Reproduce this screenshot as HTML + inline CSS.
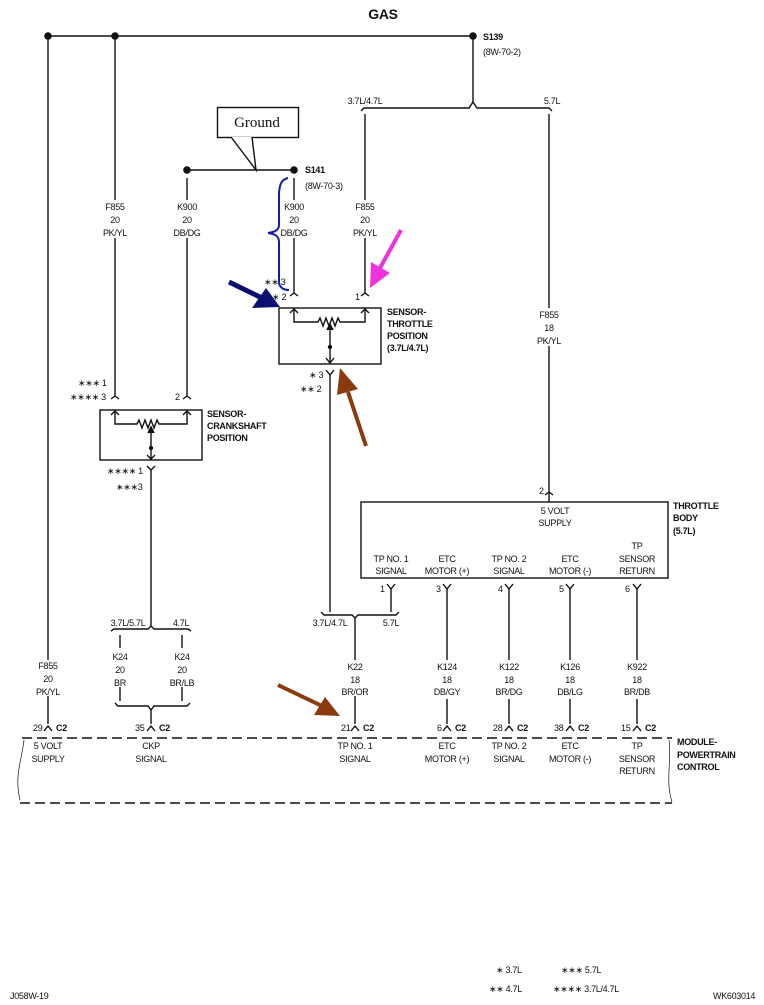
<!DOCTYPE html>
<html><head><meta charset="utf-8"><style>
html,body{margin:0;padding:0;background:#fff;}
svg{display:block;}
text{font-family:"Liberation Sans",sans-serif;font-size:9px;fill:#111;letter-spacing:-0.3px;}
.m{text-anchor:middle;}
.b{font-weight:bold;}
</style></head><body>
<svg width="764" height="1005" viewBox="0 0 764 1005" xmlns="http://www.w3.org/2000/svg">
<g stroke="#111" stroke-width="1.4" fill="none">
<line x1="48" y1="36" x2="473" y2="36"/>
<line x1="48" y1="36" x2="48" y2="660"/><line x1="48" y1="696" x2="48" y2="724"/>
<line x1="115" y1="36" x2="115" y2="200"/><line x1="115" y1="238" x2="115" y2="396"/>
<line x1="473" y1="36" x2="473" y2="102"/>
<path d="M361,111 L364,108 L469,108 L473,102 L477,108 L549,108 L552,111"/>
<line x1="365" y1="114" x2="365" y2="200"/><line x1="365" y1="238" x2="365" y2="293"/>
<line x1="549" y1="114" x2="549" y2="308"/><line x1="549" y1="346" x2="549" y2="492"/>
<line x1="187" y1="170" x2="294" y2="170"/>
<line x1="187" y1="178" x2="187" y2="200"/><line x1="187" y1="238" x2="187" y2="396"/>
<line x1="294" y1="178" x2="294" y2="200"/><line x1="294" y1="238" x2="294" y2="293"/>
<rect x="217.5" y="107.5" width="81" height="30" fill="#fff"/>
<path d="M231,137 L256,170 L252,137" fill="#fff"/>
<rect x="279" y="308" width="102" height="56"/>
<path d="M290,296 L294,293 L298,296 M361,296 L365,293 L369,296"/>
<path d="M294,308 L294,322 L318,322 L320,318 L323,326 L326,318 L329,326 L332,318 L335,326 L338,318 L340,322 L365,322 L365,308"/>
<path d="M290,313 L294,309 L298,313 M361,313 L365,309 L369,313"/>
<line x1="330" y1="324" x2="330" y2="363"/><path d="M327,330 L330,324 L333,330" fill="#111"/>
<path d="M326,358 L330,363 L334,358"/>
<path d="M326,370 L330,375 L334,370"/>
<line x1="330" y1="375" x2="330" y2="612"/>
<path d="M321,612 L324,615 L352,615 L355,618 L358,615 L396,615 L399,612"/>
<line x1="355" y1="618" x2="355" y2="660"/><line x1="355" y1="696" x2="355" y2="724"/>
<rect x="100" y="410" width="102" height="50"/>
<path d="M111,399 L115,396 L119,399 M183,399 L187,396 L191,399"/>
<path d="M111,415 L115,411 L119,415 M183,415 L187,411 L191,415"/>
<path d="M115,411 L115,424 L137,424 L139,420 L142,428 L145,420 L148,428 L151,420 L154,428 L157,420 L159,424 L187,424 L187,411"/>
<line x1="151" y1="427" x2="151" y2="459"/><path d="M148,433 L151,427 L154,433" fill="#111"/>
<path d="M147,455 L151,459 L155,455"/>
<path d="M147,466 L151,470 L155,466"/>
<line x1="151" y1="470" x2="151" y2="626"/>
<path d="M111,631 L114,629 L148,629 L151,626 L154,629 L188,629 L191,631"/>
<line x1="120" y1="635" x2="120" y2="648"/><line x1="120" y1="687" x2="120" y2="701"/>
<line x1="182" y1="635" x2="182" y2="648"/><line x1="182" y1="687" x2="182" y2="701"/>
<path d="M115,703 L118,706 L148,706 L151,710 L154,706 L187,706 L190,703"/>
<line x1="151" y1="710" x2="151" y2="724"/>
<rect x="361" y="502" width="307" height="76"/>
<path d="M545,495 L549,492 L553,495"/>
<line x1="549" y1="492" x2="549" y2="502"/>
<path d="M387,584 L391,589 L395,584 M443,584 L447,589 L451,584 M505,584 L509,589 L513,584 M566,584 L570,589 L574,584 M633,584 L637,589 L641,584"/>
<line x1="391" y1="589" x2="391" y2="612"/>
<line x1="447" y1="589" x2="447" y2="660"/><line x1="447" y1="699" x2="447" y2="724"/>
<line x1="509" y1="589" x2="509" y2="660"/><line x1="509" y1="699" x2="509" y2="724"/>
<line x1="570" y1="589" x2="570" y2="660"/><line x1="570" y1="699" x2="570" y2="724"/>
<line x1="637" y1="589" x2="637" y2="660"/><line x1="637" y1="699" x2="637" y2="724"/>
<path d="M44,731 L48,726 L52,731 M147,731 L151,726 L155,731 M351,731 L355,726 L359,731 M443,731 L447,726 L451,731 M505,731 L509,726 L513,731 M566,731 L570,726 L574,731 M633,731 L637,726 L641,731"/>
<line x1="22" y1="738" x2="672" y2="738" stroke-dasharray="10,5"/>
<line x1="20" y1="803" x2="672" y2="803" stroke-dasharray="10,5"/>
<path d="M24,740 C22,760 14,775 20,800" stroke-width="0.7"/>
<path d="M669,740 C672,760 665,780 672,802" stroke-width="0.7"/>
</g>
<g fill="#111">
<circle cx="48" cy="36" r="3.8"/><circle cx="115" cy="36" r="3.8"/><circle cx="473" cy="36" r="3.8"/>
<circle cx="187" cy="170" r="3.8"/><circle cx="294" cy="170" r="3.8"/>
<circle cx="330" cy="347" r="2.2"/><circle cx="151" cy="448" r="2.2"/>
</g>
<path d="M288,178 C280,180 280,186 279,192 L279,225 C279,230 275,232 268,233 C275,234 279,236 279,242 L279,282 C279,286 282,290 289,290" stroke="#1a1aa8" stroke-width="2" fill="none"/>
<g>
<line x1="229" y1="282" x2="262" y2="298" stroke="#0b1070" stroke-width="5"/>
<polygon points="252,308 266,288 280,307" fill="#0b1070"/>
<line x1="401" y1="230" x2="380" y2="268" stroke="#ee33dd" stroke-width="4"/>
<polygon points="370,288 371,262 390,273" fill="#ee33dd"/>
<line x1="366" y1="446" x2="348" y2="392" stroke="#8b3a10" stroke-width="4"/>
<polygon points="340,368 337,395 358,389" fill="#8b3a10"/>
<line x1="278" y1="685" x2="322" y2="706" stroke="#8b3a10" stroke-width="4"/>
<polygon points="340,716 314,715 325,697" fill="#8b3a10"/>
</g>
<text x="383" y="19" class="m b" style="font-size:14px">GAS</text>
<text x="257" y="127" class="m" style="font-family:'Liberation Serif',serif;font-size:15px;letter-spacing:0">Ground</text>
<text x="483" y="40" class="b">S139</text><text x="483" y="55">(8W-70-2)</text>
<text x="305" y="173" class="b">S141</text><text x="305" y="189">(8W-70-3)</text>
<text x="365" y="104" class="m">3.7L/4.7L</text><text x="552" y="104" class="m">5.7L</text>
<text x="115" y="210" class="m">F855</text><text x="115" y="223" class="m">20</text><text x="115" y="236" class="m">PK/YL</text>
<text x="187" y="210" class="m">K900</text><text x="187" y="223" class="m">20</text><text x="187" y="236" class="m">DB/DG</text>
<text x="294" y="210" class="m">K900</text><text x="294" y="223" class="m">20</text><text x="294" y="236" class="m">DB/DG</text>
<text x="365" y="210" class="m">F855</text><text x="365" y="223" class="m">20</text><text x="365" y="236" class="m">PK/YL</text>
<text x="549" y="318" class="m">F855</text><text x="549" y="331" class="m">18</text><text x="549" y="344" class="m">PK/YL</text>
<text x="48" y="669" class="m">F855</text><text x="48" y="682" class="m">20</text><text x="48" y="695" class="m">PK/YL</text>
<text x="120" y="660" class="m">K24</text><text x="120" y="673" class="m">20</text><text x="120" y="686" class="m">BR</text>
<text x="182" y="660" class="m">K24</text><text x="182" y="673" class="m">20</text><text x="182" y="686" class="m">BR/LB</text>
<text x="355" y="670" class="m">K22</text><text x="355" y="683" class="m">18</text><text x="355" y="695" class="m">BR/OR</text>
<text x="447" y="670" class="m">K124</text><text x="447" y="683" class="m">18</text><text x="447" y="695" class="m">DB/GY</text>
<text x="509" y="670" class="m">K122</text><text x="509" y="683" class="m">18</text><text x="509" y="695" class="m">BR/DG</text>
<text x="570" y="670" class="m">K126</text><text x="570" y="683" class="m">18</text><text x="570" y="695" class="m">DB/LG</text>
<text x="637" y="670" class="m">K922</text><text x="637" y="683" class="m">18</text><text x="637" y="695" class="m">BR/DB</text>
<text x="264" y="285">∗∗ 3</text><text x="272" y="300">∗ 2</text><text x="355" y="300">1</text>
<text x="387" y="315" class="b">SENSOR-</text><text x="387" y="327" class="b">THROTTLE</text><text x="387" y="339" class="b">POSITION</text><text x="387" y="351" class="b">(3.7L/4.7L)</text>
<text x="309" y="378">∗ 3</text><text x="300" y="392">∗∗ 2</text>
<text x="78" y="386">∗∗∗ 1</text><text x="70" y="400">∗∗∗∗ 3</text><text x="175" y="400">2</text>
<text x="207" y="417" class="b">SENSOR-</text><text x="207" y="429" class="b">CRANKSHAFT</text><text x="207" y="441" class="b">POSITION</text>
<text x="107" y="474">∗∗∗∗ 1</text><text x="116" y="490">∗∗∗3</text>
<text x="128" y="626" class="m">3.7L/5.7L</text><text x="181" y="626" class="m">4.7L</text>
<text x="330" y="626" class="m">3.7L/4.7L</text><text x="391" y="626" class="m">5.7L</text>
<text x="539" y="494">2</text>
<text x="673" y="509" class="b">THROTTLE</text><text x="673" y="521" class="b">BODY</text><text x="673" y="534" class="b">(5.7L)</text>
<text x="555" y="514" class="m">5 VOLT</text><text x="555" y="526" class="m">SUPPLY</text>
<text x="391" y="562" class="m">TP NO. 1</text><text x="391" y="574" class="m">SIGNAL</text>
<text x="447" y="562" class="m">ETC</text><text x="447" y="574" class="m">MOTOR (+)</text>
<text x="509" y="562" class="m">TP NO. 2</text><text x="509" y="574" class="m">SIGNAL</text>
<text x="570" y="562" class="m">ETC</text><text x="570" y="574" class="m">MOTOR (-)</text>
<text x="637" y="549" class="m">TP</text><text x="637" y="562" class="m">SENSOR</text><text x="637" y="574" class="m">RETURN</text>
<text x="380" y="592">1</text><text x="436" y="592">3</text><text x="498" y="592">4</text><text x="559" y="592">5</text><text x="625" y="592">6</text>
<text x="33" y="731">29</text><text x="56" y="731" class="b">C2</text>
<text x="135" y="731">35</text><text x="159" y="731" class="b">C2</text>
<text x="341" y="731">21</text><text x="363" y="731" class="b">C2</text>
<text x="437" y="731">6</text><text x="455" y="731" class="b">C2</text>
<text x="493" y="731">28</text><text x="517" y="731" class="b">C2</text>
<text x="554" y="731">38</text><text x="578" y="731" class="b">C2</text>
<text x="621" y="731">15</text><text x="645" y="731" class="b">C2</text>
<text x="48" y="749" class="m">5 VOLT</text><text x="48" y="762" class="m">SUPPLY</text>
<text x="151" y="749" class="m">CKP</text><text x="151" y="762" class="m">SIGNAL</text>
<text x="355" y="749" class="m">TP NO. 1</text><text x="355" y="762" class="m">SIGNAL</text>
<text x="447" y="749" class="m">ETC</text><text x="447" y="762" class="m">MOTOR (+)</text>
<text x="509" y="749" class="m">TP NO. 2</text><text x="509" y="762" class="m">SIGNAL</text>
<text x="570" y="749" class="m">ETC</text><text x="570" y="762" class="m">MOTOR (-)</text>
<text x="637" y="749" class="m">TP</text><text x="637" y="762" class="m">SENSOR</text><text x="637" y="774" class="m">RETURN</text>
<text x="677" y="745" class="b">MODULE-</text><text x="677" y="758" class="b">POWERTRAIN</text><text x="677" y="770" class="b">CONTROL</text>
<text x="496" y="973">∗ 3.7L</text><text x="561" y="973">∗∗∗ 5.7L</text>
<text x="489" y="992">∗∗ 4.7L</text><text x="553" y="992">∗∗∗∗ 3.7L/4.7L</text>
<text x="10" y="999">J058W-19</text><text x="713" y="999">WK603014</text>
</svg>
</body></html>
